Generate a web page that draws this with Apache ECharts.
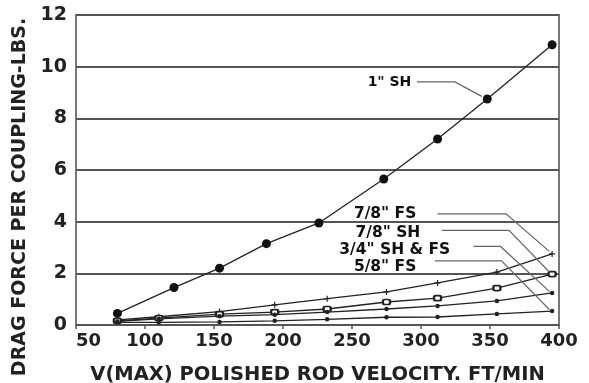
<!DOCTYPE html>
<html><head><meta charset="utf-8">
<script src="https://cdn.jsdelivr.net/npm/echarts@6/dist/echarts.min.js"></script>
<style>html,body{margin:0;padding:0;background:#fff}#c{width:589px;height:383px}</style>
</head><body><div id="c"></div>
<script>
// Data
const xTicks = [50, 100, 150, 200, 250, 300, 350, 400];
const yTicks = [0, 2, 4, 6, 8, 10, 12];
const sh1X = [80, 121, 154, 188, 226, 273, 312, 348, 395];
const sh1Y = [0.45, 1.45, 2.2, 3.15, 3.95, 5.65, 7.2, 8.75, 10.85];
const lowX = [80, 110, 154, 194, 232, 275, 312, 355, 395];
const fs78Y = [0.2, 0.32, 0.52, 0.78, 1.02, 1.28, 1.63, 2.05, 2.75];
const sh78Y = [0.16, 0.27, 0.42, 0.5, 0.62, 0.89, 1.04, 1.43, 1.97];
const shfs34Y = [0.14, 0.24, 0.34, 0.4, 0.5, 0.62, 0.74, 0.93, 1.24];
const fs58Y = [0.1, 0.1, 0.12, 0.16, 0.22, 0.3, 0.31, 0.43, 0.54];
const seriesNames = ['1" SH', '7/8" FS', '7/8" SH', '3/4" SH & FS', '5/8" FS'];
// Annotation labels (data coordinates) and leader lines
const labelPos = [[293, 9.41], [274, 4.3], [276, 3.55], [281, 2.9], [274, 2.25]];
const leaders = [
  [[297, 9.41], [324.6, 9.41], [344, 8.85]],
  [[312, 4.3], [361.6, 4.3], [393, 2.85]],
  [[315, 3.66], [363.8, 3.66], [393, 2.05]],
  [[338, 3.04], [357.6, 3.04], [393, 1.3]],
  [[310, 2.48], [358.4, 2.48], [393, 0.6]]
];

const zip = (xs, ys) => xs.map((x, i) => [x, ys[i]]);
const lineStyle = { color: '#222', width: 1.3 };
const chart = echarts.init(document.getElementById('c'), null, { renderer: 'canvas' });
const font = 'DejaVu Sans';
chart.setOption({
  animation: false,
  backgroundColor: '#fff',
  grid: { left: 76, right: 30, top: 15, bottom: 58, show: true, borderColor: '#777', borderWidth: 2,
    containLabel: false, outerBoundsMode: 'none' },
  xAxis: {
    type: 'value', min: 50, max: 400, interval: 50,
    name: 'V(MAX) POLISHED ROD VELOCITY. FT/MIN', nameLocation: 'middle', nameGap: 40,
    nameTextStyle: { fontFamily: font, fontWeight: 'bold', fontSize: 19.5, color: '#222' },
    axisLine: { show: false },
    axisTick: { show: true, length: 4, lineStyle: { color: '#555', width: 1.5 } },
    splitLine: { show: false },
    axisLabel: { fontFamily: font, fontWeight: 'bold', fontSize: 18, color: '#222', margin: 7,
      alignMinLabel: 'left',
      formatter: v => xTicks.includes(v) ? String(v) : '' }
  },
  yAxis: {
    type: 'value', min: 0, max: 12, interval: 2,
    name: 'DRAG FORCE PER COUPLING-LBS.', nameLocation: 'middle', nameGap: 34, nameRotate: 90,
    nameTextStyle: { fontFamily: font, fontWeight: 'bold', fontSize: 19, color: '#222', padding: [0, 54, 0, 0] },
    axisLine: { show: false }, axisTick: { show: false },
    splitLine: { show: true, lineStyle: { color: '#555', width: 2 } },
    axisLabel: { fontFamily: font, fontWeight: 'bold', fontSize: 19, color: '#222', margin: 9,
      formatter: v => yTicks.includes(v) ? String(v) : '' }
  },
  series: [
    { name: seriesNames[0], type: 'line', data: zip(sh1X, sh1Y), symbol: 'circle', symbolSize: 9,
      itemStyle: { color: '#111' }, lineStyle },
    { name: seriesNames[1], type: 'line', data: zip(lowX, fs78Y), symbol: 'path://M4,0H6V10H4ZM0,4H10V6H0Z', symbolSize: 6,
      itemStyle: { color: '#222' }, lineStyle },
    { name: seriesNames[2], type: 'line', data: zip(lowX, sh78Y), symbol: 'emptyRoundRect', symbolSize: [7, 5],
      itemStyle: { color: '#222', borderWidth: 1.2 }, lineStyle },
    { name: seriesNames[3], type: 'line', data: zip(lowX, shfs34Y), symbol: 'circle', symbolSize: 4.5,
      itemStyle: { color: '#222' }, lineStyle },
    { name: seriesNames[4], type: 'line', data: zip(lowX, fs58Y), symbol: 'circle', symbolSize: 4.5,
      itemStyle: { color: '#222' }, lineStyle }
  ]
});

const px = p => chart.convertToPixel({ gridIndex: 0 }, p);
const elements = [];
leaders.forEach(pts => {
  elements.push({ type: 'polyline', shape: { points: pts.map(px) }, style: { stroke: '#666', lineWidth: 1.2, fill: null }, z: 5 });
});
seriesNames.forEach((n, i) => {
  const p = px(labelPos[i]);
  elements.push({ type: 'text', x: p[0], y: p[1], z: 6,
    style: { text: n, fontFamily: font, fontWeight: 'bold', fontSize: i === 0 ? 14 : 15.5, fill: '#111',
      align: i === 0 ? 'right' : 'center', verticalAlign: 'middle' } });
});
chart.setOption({ graphic: { elements } });
</script></body></html>
